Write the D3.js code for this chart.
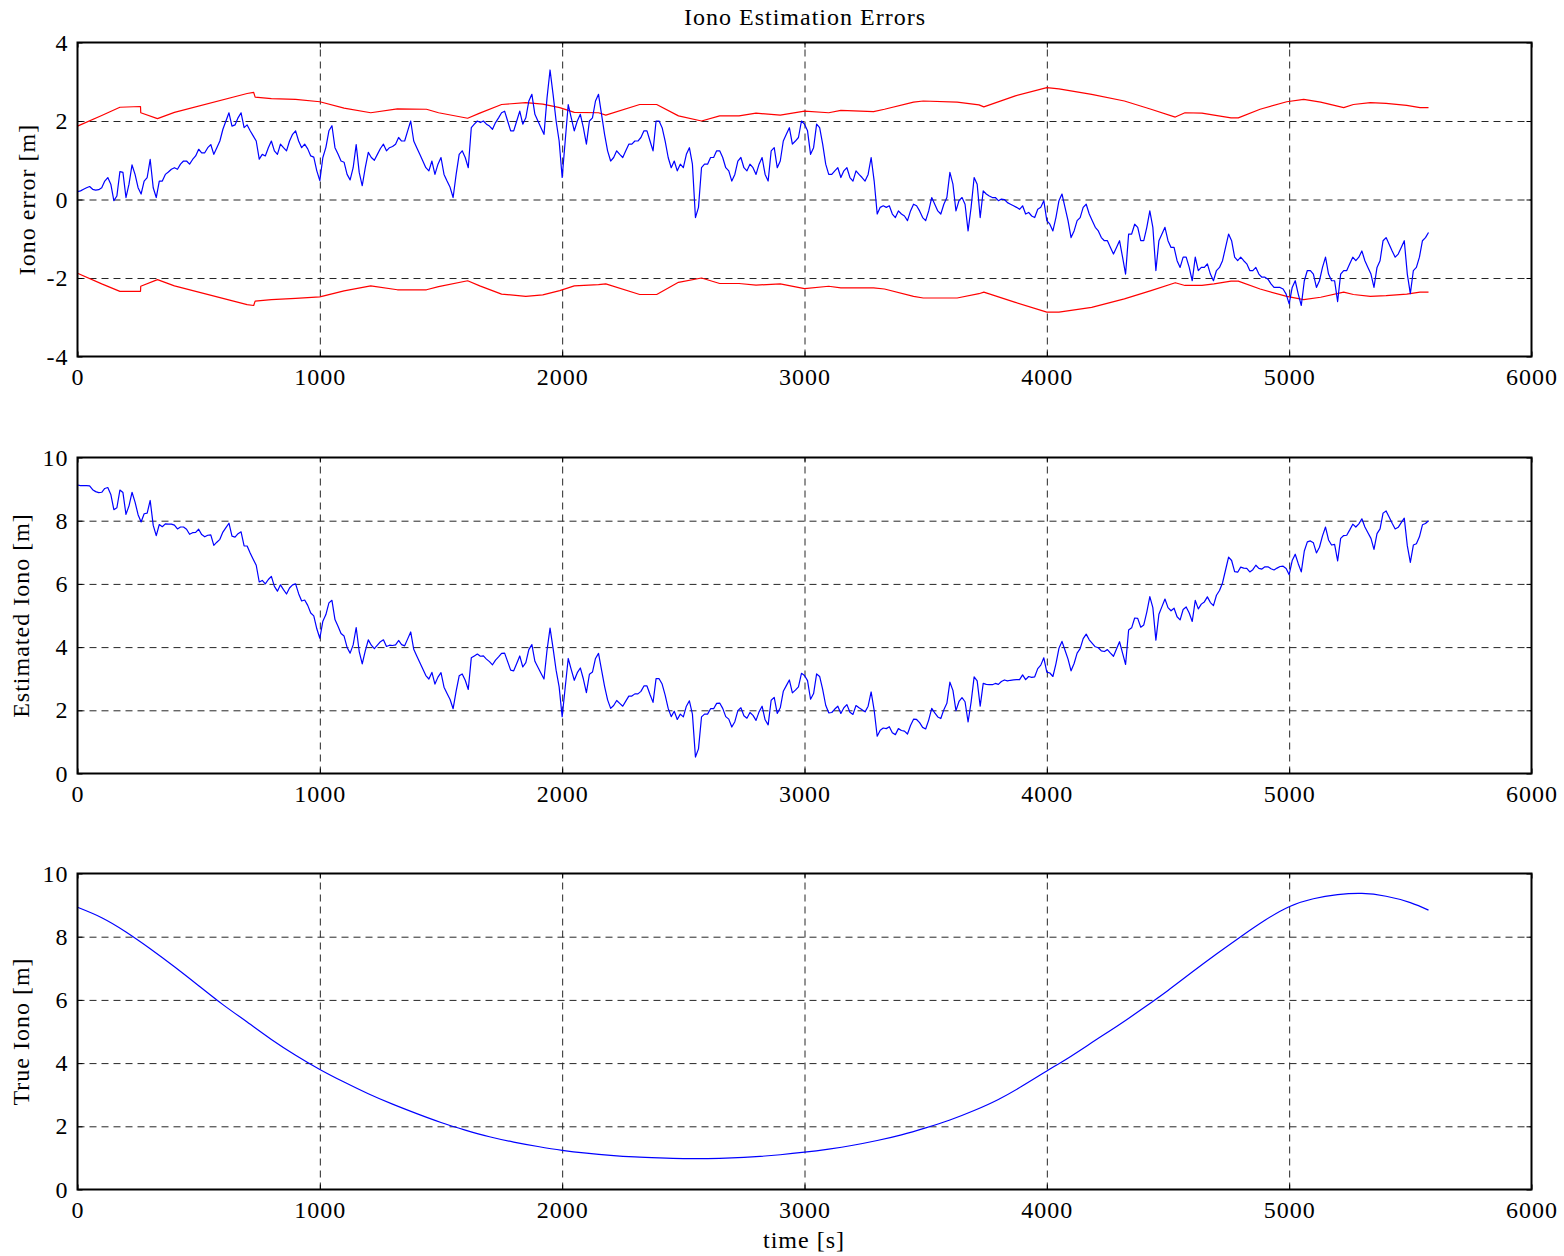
<!DOCTYPE html>
<html>
<head>
<meta charset="utf-8">
<script src="https://cdn.jsdelivr.net/npm/d3@7"></script>
<style>
  body { margin: 0; background: #fff; }
  text { font-family: "Liberation Serif", "Times New Roman", serif; fill: #000; letter-spacing: 1px; }
</style>
</head>
<body>
<svg id="chart" width="1564" height="1256"></svg>
<script>
// ---- data ----
const timeStep = 12.5; // spacing of the noisy traces [s]

// iono error [m], one value every 12.5 s from t = 0
const ionoError = [
  0.2, 0.22, 0.26, 0.3, 0.33, 0.26, 0.24, 0.25, 0.3, 0.47, 0.56, 0.39, -0.03, 0.09, 0.71, 0.69, 0.05, 0.39, 0.88, 0.64,
  0.3, 0.14, 0.47, 0.56, 1.02, 0.3, 0.05, 0.47, 0.47, 0.64, 0.7, 0.77, 0.81, 0.77, 0.9, 0.98, 0.98, 0.9, 1.02, 1.11,
  1.28, 1.19, 1.19, 1.32, 1.4, 1.15, 1.32, 1.49, 1.79, 2.0, 2.21, 1.87, 1.9, 2.08, 2.21, 1.83, 1.9, 1.75, 1.62, 1.49,
  1.03, 1.15, 1.11, 1.32, 1.49, 1.24, 1.15, 1.41, 1.32, 1.24, 1.49, 1.66, 1.75, 1.49, 1.32, 1.41, 1.29, 1.11, 1.08, 0.73,
  0.48, 1.07, 1.33, 1.75, 1.88, 1.32, 1.16, 0.98, 0.95, 0.64, 0.5, 0.81, 1.4, 0.69, 0.35, 0.81, 1.2, 1.07, 1.0, 1.15,
  1.3, 1.41, 1.24, 1.32, 1.35, 1.41, 1.58, 1.49, 1.49, 1.75, 2.0, 1.49, 1.32, 1.15, 0.98, 0.81, 0.73, 0.98, 0.64, 0.9,
  1.07, 0.64, 0.47, 0.31, 0.05, 0.64, 1.15, 1.24, 1.07, 0.81, 1.83, 1.92, 2.0, 1.96, 2.0, 1.92, 1.87, 1.79, 1.96, 2.08,
  2.21, 2.25, 2.0, 1.75, 1.75, 2.0, 2.25, 1.92, 2.08, 2.51, 2.68, 2.17, 2.0, 1.83, 1.66, 2.59, 3.3, 2.68, 2.0, 1.49,
  0.56, 1.49, 2.42, 2.08, 1.75, 2.0, 2.17, 1.83, 1.41, 2.0, 2.08, 2.51, 2.68, 2.17, 1.66, 1.24, 0.98, 1.07, 1.24, 1.15,
  1.07, 1.24, 1.41, 1.41, 1.49, 1.49, 1.58, 1.75, 1.75, 1.49, 1.24, 2.0, 2.0, 1.83, 1.49, 1.07, 0.81, 0.98, 0.73, 0.9,
  0.81, 1.15, 1.32, 0.9, -0.46, -0.2, 0.81, 0.9, 0.9, 1.07, 1.07, 1.24, 1.24, 1.07, 0.81, 0.73, 0.47, 0.64, 0.98, 1.07,
  0.81, 0.73, 0.9, 0.81, 0.64, 0.9, 1.07, 0.64, 0.47, 1.24, 1.32, 0.81, 0.98, 1.49, 1.66, 1.83, 1.41, 1.49, 1.58, 2.0,
  1.92, 1.75, 1.15, 1.32, 1.92, 1.83, 1.41, 0.9, 0.64, 0.64, 0.73, 0.81, 0.56, 0.73, 0.81, 0.56, 0.47, 0.73, 0.64, 0.56,
  0.47, 0.64, 1.07, 0.47, -0.37, -0.2, -0.16, -0.2, -0.16, -0.37, -0.46, -0.29, -0.37, -0.42, -0.54, -0.29, -0.12, -0.16, -0.29, -0.46,
  -0.54, -0.29, 0.05, -0.12, -0.29, -0.37, -0.12, 0.05, 0.69, 0.39, -0.29, -0.03, 0.05, -0.12, -0.8, -0.2, 0.56, 0.39, -0.46, 0.22,
  0.14, 0.09, 0.05, 0.05, -0.03, 0.01, 0.0, -0.08, -0.12, -0.16, -0.2, -0.25, -0.16, -0.37, -0.33, -0.42, -0.46, -0.25, -0.2, -0.03,
  -0.54, -0.63, -0.8, -0.46, -0.03, 0.14, -0.2, -0.54, -0.97, -0.8, -0.54, -0.46, -0.2, -0.12, -0.37, -0.54, -0.71, -0.8, -0.97, -1.05,
  -1.05, -1.22, -1.39, -1.22, -1.05, -1.47, -1.9, -0.88, -0.88, -0.63, -0.71, -1.05, -1.05, -0.71, -0.29, -0.71, -1.81, -1.05, -0.88, -0.71,
  -1.05, -1.22, -1.22, -1.56, -1.73, -1.47, -1.47, -1.73, -2.07, -1.47, -1.81, -1.73, -1.73, -1.64, -1.9, -2.07, -1.81, -1.73, -1.56, -1.22,
  -0.88, -1.05, -1.47, -1.56, -1.47, -1.56, -1.64, -1.81, -1.81, -1.73, -1.9, -1.98, -1.98, -2.03, -2.15, -2.24, -2.24, -2.24, -2.28, -2.41,
  -2.66, -2.24, -2.07, -2.41, -2.7, -2.07, -1.81, -1.81, -1.9, -2.24, -2.07, -1.73, -1.47, -1.9, -2.07, -2.07, -2.6, -1.9, -1.81, -1.81,
  -1.64, -1.47, -1.56, -1.47, -1.31, -1.56, -1.73, -1.9, -2.24, -1.73, -1.56, -1.05, -0.97, -1.14, -1.31, -1.47, -1.39, -1.22, -1.05, -1.9,
  -2.4, -1.81, -1.73, -1.47, -1.05, -0.97, -0.84
];

// estimated iono [m], same time grid
const ionoEstimated = [
  9.13, 9.11, 9.11, 9.11, 9.1, 8.98, 8.92, 8.89, 8.9, 9.02, 9.05, 8.83, 8.35, 8.41, 8.97, 8.89, 8.2, 8.47, 8.9, 8.59,
  8.19, 7.96, 8.22, 8.24, 8.64, 7.85, 7.53, 7.88, 7.81, 7.9, 7.89, 7.89, 7.86, 7.74, 7.8, 7.8, 7.73, 7.57, 7.62, 7.63,
  7.73, 7.56, 7.49, 7.54, 7.55, 7.22, 7.32, 7.41, 7.64, 7.78, 7.92, 7.51, 7.48, 7.59, 7.65, 7.2, 7.2, 6.98, 6.78, 6.59,
  6.06, 6.11, 6.0, 6.14, 6.24, 5.92, 5.77, 5.97, 5.82, 5.68, 5.87, 5.97, 6.0, 5.69, 5.46, 5.49, 5.32, 5.08, 4.99, 4.58,
  4.28, 4.82, 5.03, 5.4, 5.48, 4.87, 4.66, 4.43, 4.35, 3.99, 3.81, 4.07, 4.62, 3.86, 3.47, 3.88, 4.23, 4.06, 3.95, 4.06,
  4.17, 4.23, 4.02, 4.06, 4.05, 4.07, 4.21, 4.08, 4.04, 4.26, 4.48, 3.93, 3.72, 3.51, 3.31, 3.1, 2.99, 3.2, 2.83, 3.05,
  3.19, 2.73, 2.53, 2.34, 2.05, 2.61, 3.09, 3.15, 2.95, 2.66, 3.66, 3.72, 3.78, 3.71, 3.72, 3.62, 3.54, 3.44, 3.59, 3.69,
  3.8, 3.81, 3.54, 3.27, 3.25, 3.48, 3.72, 3.37, 3.51, 3.92, 4.08, 3.55, 3.36, 3.17, 2.99, 3.9, 4.6, 3.96, 3.27, 2.74,
  1.8, 2.72, 3.64, 3.29, 2.95, 3.19, 3.34, 2.99, 2.56, 3.14, 3.21, 3.64, 3.8, 3.28, 2.76, 2.33, 2.06, 2.15, 2.31, 2.22,
  2.13, 2.29, 2.45, 2.45, 2.52, 2.52, 2.6, 2.77, 2.77, 2.5, 2.25, 3.0, 3.0, 2.83, 2.48, 2.06, 1.8, 1.97, 1.71, 1.88,
  1.79, 2.13, 2.3, 1.88, 0.52, 0.78, 1.79, 1.88, 1.88, 2.05, 2.05, 2.22, 2.23, 2.06, 1.8, 1.72, 1.47, 1.64, 1.99, 2.08,
  1.83, 1.75, 1.93, 1.84, 1.68, 1.95, 2.13, 1.7, 1.54, 2.32, 2.41, 1.9, 2.08, 2.6, 2.78, 2.96, 2.55, 2.64, 2.74, 3.17,
  3.1, 2.94, 2.35, 2.53, 3.15, 3.07, 2.66, 2.16, 1.92, 1.93, 2.04, 2.13, 1.9, 2.08, 2.18, 1.94, 1.87, 2.15, 2.08, 2.02,
  1.95, 2.13, 2.58, 2.0, 1.18, 1.37, 1.44, 1.42, 1.48, 1.29, 1.23, 1.42, 1.36, 1.34, 1.25, 1.52, 1.72, 1.71, 1.61, 1.46,
  1.41, 1.69, 2.06, 1.92, 1.79, 1.74, 2.02, 2.22, 2.89, 2.63, 1.99, 2.28, 2.4, 2.27, 1.63, 2.26, 3.06, 2.93, 2.13, 2.85,
  2.82, 2.81, 2.81, 2.85, 2.82, 2.91, 2.96, 2.93, 2.95, 2.96, 2.97, 2.97, 3.12, 2.97, 3.07, 3.04, 3.06, 3.32, 3.43, 3.66,
  3.21, 3.18, 3.07, 3.47, 3.96, 4.18, 3.9, 3.62, 3.25, 3.48, 3.81, 3.95, 4.27, 4.41, 4.23, 4.12, 4.01, 3.98, 3.88, 3.86,
  3.92, 3.81, 3.71, 3.94, 4.17, 3.81, 3.45, 4.54, 4.61, 4.92, 4.91, 4.63, 4.7, 5.11, 5.6, 5.25, 4.22, 5.04, 5.28, 5.52,
  5.25, 5.15, 5.23, 4.96, 4.86, 5.19, 5.27, 5.08, 4.81, 5.48, 5.21, 5.36, 5.43, 5.59, 5.41, 5.31, 5.64, 5.79, 6.03, 6.44,
  6.85, 6.74, 6.39, 6.37, 6.53, 6.5, 6.49, 6.38, 6.45, 6.59, 6.49, 6.47, 6.54, 6.54, 6.48, 6.44, 6.5, 6.55, 6.56, 6.49,
  6.29, 6.74, 6.94, 6.64, 6.38, 7.04, 7.33, 7.36, 7.3, 6.98, 7.16, 7.52, 7.8, 7.39, 7.23, 7.25, 6.73, 7.44, 7.53, 7.54,
  7.71, 7.89, 7.8, 7.9, 8.06, 7.8, 7.62, 7.44, 7.09, 7.59, 7.74, 8.24, 8.31, 8.12, 7.92, 7.74, 7.79, 7.94, 8.08, 7.21,
  6.68, 7.23, 7.27, 7.49, 7.87, 7.91, 8.0
];

// +/- bounds on the iono error [m]
const boundTimes = [0, 100, 175, 260, 261, 330, 400, 700, 727, 733, 800, 900, 1000, 1100, 1210, 1320, 1440, 1490, 1610, 1660,
  1750, 1850, 1920, 1990, 2050, 2150, 2180, 2320, 2390, 2480, 2575, 2650, 2730, 2800, 2900, 3000, 3100, 3150, 3285, 3330,
  3450, 3490, 3630, 3720, 3740, 3870, 4000, 4050, 4185, 4320, 4430, 4530, 4570, 4640, 4690, 4760, 4790, 4880, 4990, 5060,
  5130, 5225, 5265, 5335, 5400, 5485, 5540, 5575];
const boundUpper = [1.87, 2.14, 2.35, 2.37, 2.21, 2.06, 2.22, 2.7, 2.73, 2.61, 2.57, 2.55, 2.49, 2.33, 2.21, 2.31, 2.3, 2.21, 2.07, 2.2,
  2.42, 2.47, 2.43, 2.34, 2.22, 2.21, 2.15, 2.42, 2.42, 2.13, 2.0, 2.13, 2.13, 2.2, 2.15, 2.25, 2.21, 2.27, 2.24, 2.3,
  2.48, 2.51, 2.48, 2.41, 2.36, 2.64, 2.85, 2.82, 2.68, 2.51, 2.3, 2.1, 2.21, 2.2, 2.15, 2.08, 2.08, 2.3, 2.49, 2.55,
  2.48, 2.34, 2.42, 2.47, 2.45, 2.4, 2.34, 2.34];
const boundLower = [-1.88, -2.15, -2.34, -2.34, -2.21, -2.04, -2.2, -2.68, -2.7, -2.59, -2.55, -2.52, -2.48, -2.33, -2.2, -2.3, -2.3, -2.22, -2.07, -2.2,
  -2.41, -2.47, -2.43, -2.32, -2.2, -2.17, -2.15, -2.42, -2.42, -2.11, -2.0, -2.14, -2.14, -2.18, -2.15, -2.27, -2.21, -2.25, -2.25, -2.28,
  -2.47, -2.51, -2.51, -2.4, -2.36, -2.62, -2.87, -2.87, -2.75, -2.53, -2.32, -2.12, -2.19, -2.19, -2.15, -2.08, -2.08, -2.28, -2.47, -2.55,
  -2.49, -2.36, -2.42, -2.47, -2.45, -2.41, -2.36, -2.36];

// true iono [m]
const trueTimes = [0, 100, 200, 300, 400, 500, 600, 700, 800, 900, 1000, 1100, 1200, 1300, 1400, 1500, 1600, 1700, 1800, 1900,
  2000, 2100, 2200, 2300, 2400, 2500, 2600, 2700, 2800, 2900, 3000, 3100, 3200, 3300, 3400, 3500, 3600, 3700, 3800, 3900,
  4000, 4100, 4200, 4300, 4400, 4500, 4600, 4700, 4800, 4900, 5000, 5100, 5200, 5300, 5400, 5500, 5575];
const ionoTrue = [8.93, 8.6, 8.15, 7.62, 7.05, 6.45, 5.85, 5.3, 4.75, 4.25, 3.8, 3.4, 3.03, 2.7, 2.4, 2.12, 1.88, 1.67, 1.5, 1.36,
  1.24, 1.15, 1.08, 1.03, 1.0, 0.98, 0.98, 1.0, 1.04, 1.1, 1.18, 1.28, 1.4, 1.55, 1.73, 1.95, 2.2, 2.5, 2.85, 3.28,
  3.75, 4.22, 4.72, 5.22, 5.75, 6.3, 6.88, 7.45, 8.0, 8.52, 8.95, 9.2, 9.33, 9.37, 9.28, 9.08, 8.84];

const xTicks = [0, 1000, 2000, 3000, 4000, 5000, 6000];
const errTicks = [-4, -2, 0, 2, 4];
const ionoTicks = [0, 2, 4, 6, 8, 10];

// ---- drawing ----
const svg = d3.select("#chart");
const x = d3.scaleLinear().domain([0, 6000]).range([77.5, 1531.5]);
const FONT = 24;

const toPoints = (vals, times) => vals.map((v, i) => ({ t: times ? times[i] : i * timeStep, v }));

function drawPanel({ top, bottom, yDomain, yTicks, yLabel, labelX, lines }) {
  const y = d3.scaleLinear().domain(yDomain).range([bottom, top]);
  const h = bottom - top;
  const g = svg.append("g");

  // dashed grid
  const gridStyle = sel => sel.selectAll("line")
    .attr("stroke", "#262626")
    .attr("stroke-width", 1)
    .attr("stroke-dasharray", "7,5");

  g.append("g")
    .attr("transform", `translate(0,${bottom})`)
    .call(d3.axisBottom(x).tickValues(xTicks.slice(1, -1)).tickSize(-h).tickFormat(""))
    .call(a => a.select(".domain").remove())
    .call(gridStyle);

  g.append("g")
    .attr("transform", `translate(${x.range()[0]},0)`)
    .call(d3.axisLeft(y).tickValues(yTicks.slice(1, -1)).tickSize(-(x.range()[1] - x.range()[0])).tickFormat(""))
    .call(a => a.select(".domain").remove())
    .call(gridStyle);

  // data lines
  lines.forEach(l => {
    g.append("path")
      .datum(l.data)
      .attr("fill", "none")
      .attr("stroke", l.color)
      .attr("stroke-width", 1.2)
      .attr("stroke-linejoin", "round")
      .attr("d", d3.line().curve(l.curve || d3.curveLinear).x(d => x(d.t)).y(d => y(d.v)));
  });

  // axes with inward ticks
  const styleAxis = a => {
    a.select(".domain").remove();
    a.selectAll(".tick line").attr("stroke", "#000").attr("stroke-width", 1);
    a.selectAll(".tick text").attr("font-size", FONT);
  };

  g.append("g")
    .attr("transform", `translate(0,${bottom})`)
    .call(d3.axisBottom(x).tickValues(xTicks).tickSize(-5).tickPadding(11).tickFormat(d => String(d)))
    .call(styleAxis);
  g.append("g")
    .attr("transform", `translate(0,${top})`)
    .call(d3.axisTop(x).tickValues(xTicks).tickSize(-5).tickFormat(""))
    .call(styleAxis);
  g.append("g")
    .attr("transform", `translate(${x.range()[0]},0)`)
    .call(d3.axisLeft(y).tickValues(yTicks).tickSize(-5).tickPadding(9).tickFormat(d => String(d)))
    .call(styleAxis);
  g.append("g")
    .attr("transform", `translate(${x.range()[1]},0)`)
    .call(d3.axisRight(y).tickValues(yTicks).tickSize(-5).tickFormat(""))
    .call(styleAxis);

  // frame
  g.append("rect")
    .attr("x", x.range()[0]).attr("y", top)
    .attr("width", x.range()[1] - x.range()[0]).attr("height", h)
    .attr("fill", "none").attr("stroke", "#000").attr("stroke-width", 2);

  // y label
  svg.append("text")
    .attr("transform", `translate(${labelX},${(top + bottom) / 2}) rotate(-90)`)
    .attr("text-anchor", "middle")
    .attr("font-size", FONT)
    .text(yLabel);
}

drawPanel({
  top: 42.5, bottom: 356.5, yDomain: [-4, 4], yTicks: errTicks,
  yLabel: "Iono error [m]", labelX: 35,
  lines: [
    { data: toPoints(boundUpper, boundTimes), color: "#ff0000" },
    { data: toPoints(boundLower, boundTimes), color: "#ff0000" },
    { data: toPoints(ionoError), color: "#0000ff" }
  ]
});

drawPanel({
  top: 457.5, bottom: 773.5, yDomain: [0, 10], yTicks: ionoTicks,
  yLabel: "Estimated Iono [m]", labelX: 29,
  lines: [{ data: toPoints(ionoEstimated), color: "#0000ff" }]
});

drawPanel({
  top: 873.5, bottom: 1189.5, yDomain: [0, 10], yTicks: ionoTicks,
  yLabel: "True Iono [m]", labelX: 29,
  lines: [{ data: toPoints(ionoTrue, trueTimes), color: "#0000ff", curve: d3.curveNatural }]
});

// title and x label
svg.append("text")
  .attr("x", 805).attr("y", 25)
  .attr("text-anchor", "middle")
  .attr("font-size", FONT)
  .text("Iono Estimation Errors");

svg.append("text")
  .attr("x", 804).attr("y", 1248)
  .attr("text-anchor", "middle")
  .attr("font-size", FONT)
  .text("time [s]");
</script>
</body>
</html>
